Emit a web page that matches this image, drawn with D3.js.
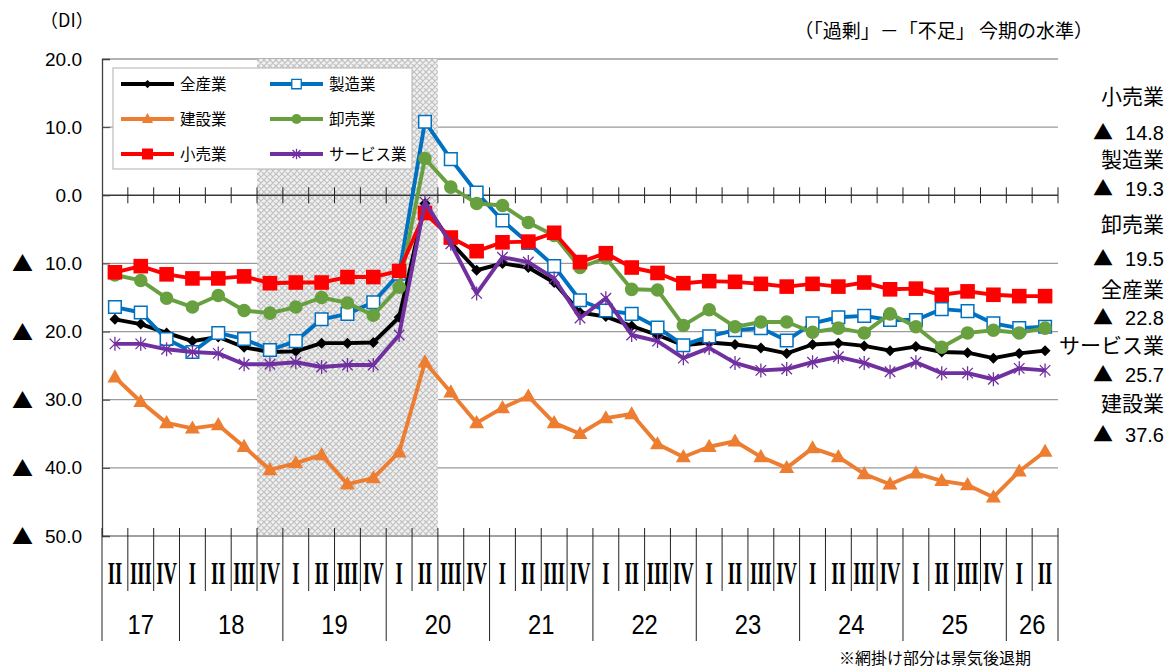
<!DOCTYPE html>
<html><head><meta charset="utf-8">
<script src="https://cdn.jsdelivr.net/npm/d3@7"></script>
<style>body{margin:0;background:#fff}svg{display:block}</style>
</head><body>
<svg id="c" width="1173" height="670"></svg>
<script>
// ---- data ----
const quarterLabels = ["II","III","IV","I","II","III","IV","I","II","III","IV","I","II","III","IV","I","II","III","IV","I","II","III","IV","I","II","III","IV","I","II","III","IV","I","II","III","IV","I","II"];
const yearLabels = ["17","18","19","20","21","22","23","24","25","26"];
const yearSpans = [3,4,4,4,4,4,4,4,4,2];
const recessionFirst = 6;   // 18 IV
const recessionLast = 12;   // 20 II
const yTicks = [20,10,0,-10,-20,-30,-40,-50];
const seriesNames = ["全産業","製造業","建設業","卸売業","小売業","サービス業"];

const allIndustries = [-18.2,-18.9,-20.2,-21.4,-20.8,-22.3,-23.0,-22.9,-21.7,-21.7,-21.6,-17.9,-1.2,-6.9,-11.0,-10.0,-10.6,-12.8,-17.2,-17.8,-19.2,-20.5,-22.0,-21.6,-21.9,-22.4,-23.2,-21.9,-21.7,-22.1,-22.8,-22.2,-23.0,-23.1,-23.9,-23.2,-22.8];
const manufacturing = [-16.4,-17.2,-21.1,-23.0,-20.2,-21.1,-22.7,-21.4,-18.2,-17.4,-15.7,-11.5,10.8,5.3,0.4,-3.7,-7.0,-10.4,-15.4,-16.9,-17.4,-19.4,-22.0,-20.7,-19.8,-19.5,-21.3,-18.8,-17.9,-17.7,-18.3,-18.3,-16.7,-17.0,-18.8,-19.5,-19.3];
const construction = [-26.7,-30.3,-33.4,-34.2,-33.7,-36.9,-40.3,-39.3,-38.1,-42.4,-41.5,-37.7,-24.5,-28.9,-33.4,-31.2,-29.5,-33.4,-35.0,-32.7,-32.1,-36.5,-38.4,-36.9,-36.1,-38.4,-40.0,-37.1,-38.4,-40.9,-42.4,-40.8,-41.9,-42.5,-44.3,-40.5,-37.6];
const wholesale = [-11.7,-12.5,-15.1,-16.4,-14.7,-16.9,-17.3,-16.4,-15.0,-15.8,-17.6,-13.5,5.4,1.2,-1.2,-1.5,-4.0,-5.9,-10.6,-9.2,-13.8,-13.9,-19.1,-16.8,-19.3,-18.6,-18.6,-20.1,-19.5,-20.2,-17.4,-19.3,-22.3,-20.2,-19.8,-20.2,-19.5];
const retail = [-11.3,-10.4,-11.6,-12.2,-12.2,-11.9,-12.9,-12.8,-12.8,-12.0,-12.0,-11.1,-2.6,-6.2,-8.2,-6.9,-6.8,-5.5,-9.8,-8.5,-10.6,-11.4,-12.9,-12.6,-12.7,-13.0,-13.4,-13.0,-13.4,-12.8,-13.8,-13.7,-14.6,-14.1,-14.6,-14.8,-14.8];
const services = [-21.8,-21.8,-22.6,-23.0,-23.2,-24.8,-24.8,-24.5,-25.2,-24.9,-24.9,-20.5,-1.0,-7.1,-14.4,-9.1,-9.8,-12.2,-18.0,-15.1,-20.5,-21.4,-23.9,-22.4,-24.6,-25.7,-25.5,-24.5,-23.7,-24.6,-25.9,-24.5,-26.1,-26.1,-27.0,-25.4,-25.7];

const rightOrder = ["小売業","製造業","卸売業","全産業","サービス業","建設業"];

// ---- layout ----
const L = 102, R = 1058, T = 59, B = 536;
const JP = "'Noto Sans CJK JP','Noto Sans',sans-serif";
const NUM = "'Liberation Sans',Arial,sans-serif";

const svg = d3.select("#c");
const x = d3.scaleBand().domain(d3.range(quarterLabels.length)).range([L, R]).padding(0);
const bw = x.bandwidth();
const y = d3.scaleLinear().domain([-50, 20]).range([B, T]);
const cx = i => x(i) + bw / 2;

const defs = svg.append("defs");
const pat = defs.append("pattern").attr("id", "hatch").attr("patternUnits", "userSpaceOnUse")
  .attr("width", 6).attr("height", 6);
pat.append("rect").attr("width", 6).attr("height", 6).attr("fill", "#f0f0f0");
pat.append("path").attr("d", "M0,0L6,6M6,0L0,6M-1,5L1,7M5,-1L7,1").attr("stroke", "#c0c0c0").attr("stroke-width", 1.2);

// gridlines
svg.append("g").selectAll("line").data(yTicks.filter(t => t !== 0)).join("line")
  .attr("x1", L).attr("x2", R).attr("y1", d => y(d)).attr("y2", d => y(d))
  .attr("stroke", "#9a9a9a").attr("stroke-width", 1.3);

// recession shading
svg.append("rect").attr("x", x(recessionFirst)).attr("y", T)
  .attr("width", x(recessionLast) + bw - x(recessionFirst)).attr("height", B - T)
  .attr("fill", "url(#hatch)");

svg.append("line").attr("x1", L).attr("x2", R).attr("y1", B).attr("y2", B)
  .attr("stroke", "#9a9a9a").attr("stroke-width", 1.3);

// left axis
const yAxis = d3.axisLeft(y).tickValues(yTicks).tickSize(-8).tickPadding(20)
  .tickFormat(v => Math.abs(v).toFixed(1));
const ya = svg.append("g").attr("transform", `translate(${L},0)`).call(yAxis);
ya.select(".domain").attr("stroke", "#404040").attr("stroke-width", 1.3);
ya.selectAll(".tick line").attr("stroke", "#404040");
ya.selectAll(".tick text").attr("font-family", NUM).attr("font-size", 19).attr("fill", "#000");
ya.selectAll(".tick").filter(v => v < 0).append("text")
  .attr("x", 12 - L).attr("dy", "0.36em").attr("text-anchor", "start")
  .attr("font-family", JP).attr("font-size", 21).attr("fill", "#000").text("▲");

// zero line with crossing ticks
const boundaries = d3.range(quarterLabels.length + 1).map(i => L + i * bw);
svg.append("line").attr("x1", L).attr("x2", R).attr("y1", y(0)).attr("y2", y(0))
  .attr("stroke", "#3a3a3a").attr("stroke-width", 1.5);
svg.append("g").selectAll("line").data(boundaries.slice(1)).join("line")
  .attr("x1", d => d).attr("x2", d => d).attr("y1", y(0) - 8).attr("y2", y(0) + 8)
  .attr("stroke", "#222").attr("stroke-width", 1);

// category axis separators
const yearStarts = [0];
yearSpans.forEach((s, k) => yearStarts.push(yearStarts[k] + s));
svg.append("g").selectAll("line").data(d3.range(quarterLabels.length + 1)).join("line")
  .attr("x1", i => boundaries[i]).attr("x2", i => boundaries[i])
  .attr("y1", B - 8).attr("y2", i => yearStarts.includes(i) ? 641 : 591)
  .attr("stroke", "#222").attr("stroke-width", 1);

svg.append("g").selectAll("text").data(quarterLabels).join("text")
  .attr("transform", (d, i) => `translate(${cx(i)},584) scale(0.6,1)`)
  .attr("text-anchor", "middle").attr("font-family", "'Liberation Serif',serif")
  .attr("font-weight", "bold").attr("font-size", 31).text(d => d);

svg.append("g").selectAll("text").data(yearLabels).join("text")
  .attr("transform", (d, k) => `translate(${(boundaries[yearStarts[k]] + boundaries[yearStarts[k + 1]]) / 2},634) scale(0.88,1)`)
  .attr("text-anchor", "middle").attr("font-family", NUM).attr("font-size", 27).text(d => d);

// series
const markers = {
  diamond: r => `M0,${-r}L${r},0L0,${r}L${-r},0Z`,
  square: r => `M${-r},${-r}H${r}V${r}H${-r}Z`,
  circle: r => `M${r},0A${r},${r} 0 1,1 ${-r},0A${r},${r} 0 1,1 ${r},0Z`,
  triangle: r => `M0,${-r * 1.05}L${r},${r * 0.7}L${-r},${r * 0.7}Z`,
  star: r => { const a = r * 0.75; return `M0,${-r}V${r}M${-a},${-a}L${a},${a}M${a},${-a}L${-a},${a}`; }
};
const series = [
  {name: "全産業", values: allIndustries, color: "#000000", m: "diamond", r: 5.5, fill: "#000", stroke: "none"},
  {name: "製造業", values: manufacturing, color: "#0070C0", m: "square", r: 6.3, fill: "#fff", stroke: "#0070C0"},
  {name: "建設業", values: construction, color: "#ED7D31", m: "triangle", r: 7.5, fill: "#ED7D31", stroke: "none"},
  {name: "卸売業", values: wholesale, color: "#68A040", m: "circle", r: 6.8, fill: "#68A040", stroke: "none"},
  {name: "小売業", values: retail, color: "#FF0000", m: "square", r: 7.3, fill: "#FF0000", stroke: "none"},
  {name: "サービス業", values: services, color: "#7030A0", m: "star", r: 7, fill: "none", stroke: "#7030A0"}
];
const line = d3.line().x((d, i) => cx(i)).y(d => y(d));
series.forEach(s => {
  const g = svg.append("g");
  g.append("path").attr("d", line(s.values)).attr("fill", "none").attr("stroke", s.color)
    .attr("stroke-width", 3.9).attr("stroke-linejoin", "round");
  g.selectAll("path.mk").data(s.values).join("path").attr("class", "mk")
    .attr("transform", (d, i) => `translate(${cx(i)},${y(d)})`)
    .attr("d", markers[s.m](s.r)).attr("fill", s.fill).attr("stroke", s.stroke)
    .attr("stroke-width", s.m === "star" ? 1.3 : 1.5);
});

// legend
const lg = svg.append("g");
lg.append("rect").attr("x", 113).attr("y", 68).attr("width", 299).attr("height", 101)
  .attr("fill", "#fff").attr("stroke", "#bdbdbd").attr("stroke-width", 1.2);
const legendPos = [[0,0],[1,0],[0,1],[1,1],[0,2],[1,2]];
series.forEach((s, k) => {
  const [c, r] = legendPos[k];
  const x0 = 121 + c * 149, yy = 84 + r * 35;
  lg.append("line").attr("x1", x0).attr("x2", x0 + 53).attr("y1", yy).attr("y2", yy)
    .attr("stroke", s.color).attr("stroke-width", 3.8);
  lg.append("path").attr("transform", `translate(${x0 + 26.5},${yy})`)
    .attr("d", markers[s.m](s.r * 0.75)).attr("fill", s.fill).attr("stroke", s.stroke).attr("stroke-width", 1.3);
  lg.append("text").attr("x", x0 + 59).attr("y", yy + 5.5).attr("font-family", JP)
    .attr("font-size", 15.5).text(s.name);
});

// texts
svg.append("text").attr("x", 40).attr("y", 27).attr("font-family", JP).attr("font-size", 18).text("（DI）");
svg.append("text").attr("x", 1093).attr("y", 38).attr("text-anchor", "end").attr("font-family", JP)
  .attr("font-size", 19).text("（「過剰」－「不足」 今期の水準）");
svg.append("text").attr("x", 1031).attr("y", 664).attr("text-anchor", "end").attr("font-family", JP)
  .attr("font-size", 16).text("※網掛け部分は景気後退期");

// right labels
const rightY = [96, 133, 159, 189, 224, 259, 289, 318, 345, 375, 403, 435];
rightOrder.forEach((n, k) => {
  const s = series.find(d => d.name === n);
  const last = s.values[s.values.length - 1];
  svg.append("text").attr("x", 1164).attr("y", rightY[2 * k]).attr("dy", "0.36em").attr("text-anchor", "end")
    .attr("font-family", JP).attr("font-size", 21).text(n);
  svg.append("text").attr("x", 1164).attr("y", rightY[2 * k + 1]).attr("dy", "0.36em").attr("text-anchor", "end")
    .attr("font-family", NUM).attr("font-size", 20).text(Math.abs(last).toFixed(1));
  if (last < 0) svg.append("text").attr("x", 1093).attr("y", rightY[2 * k + 1]).attr("dy", "0.36em")
    .attr("font-family", JP).attr("font-size", 20).text("▲");
});
</script>
</body></html>
